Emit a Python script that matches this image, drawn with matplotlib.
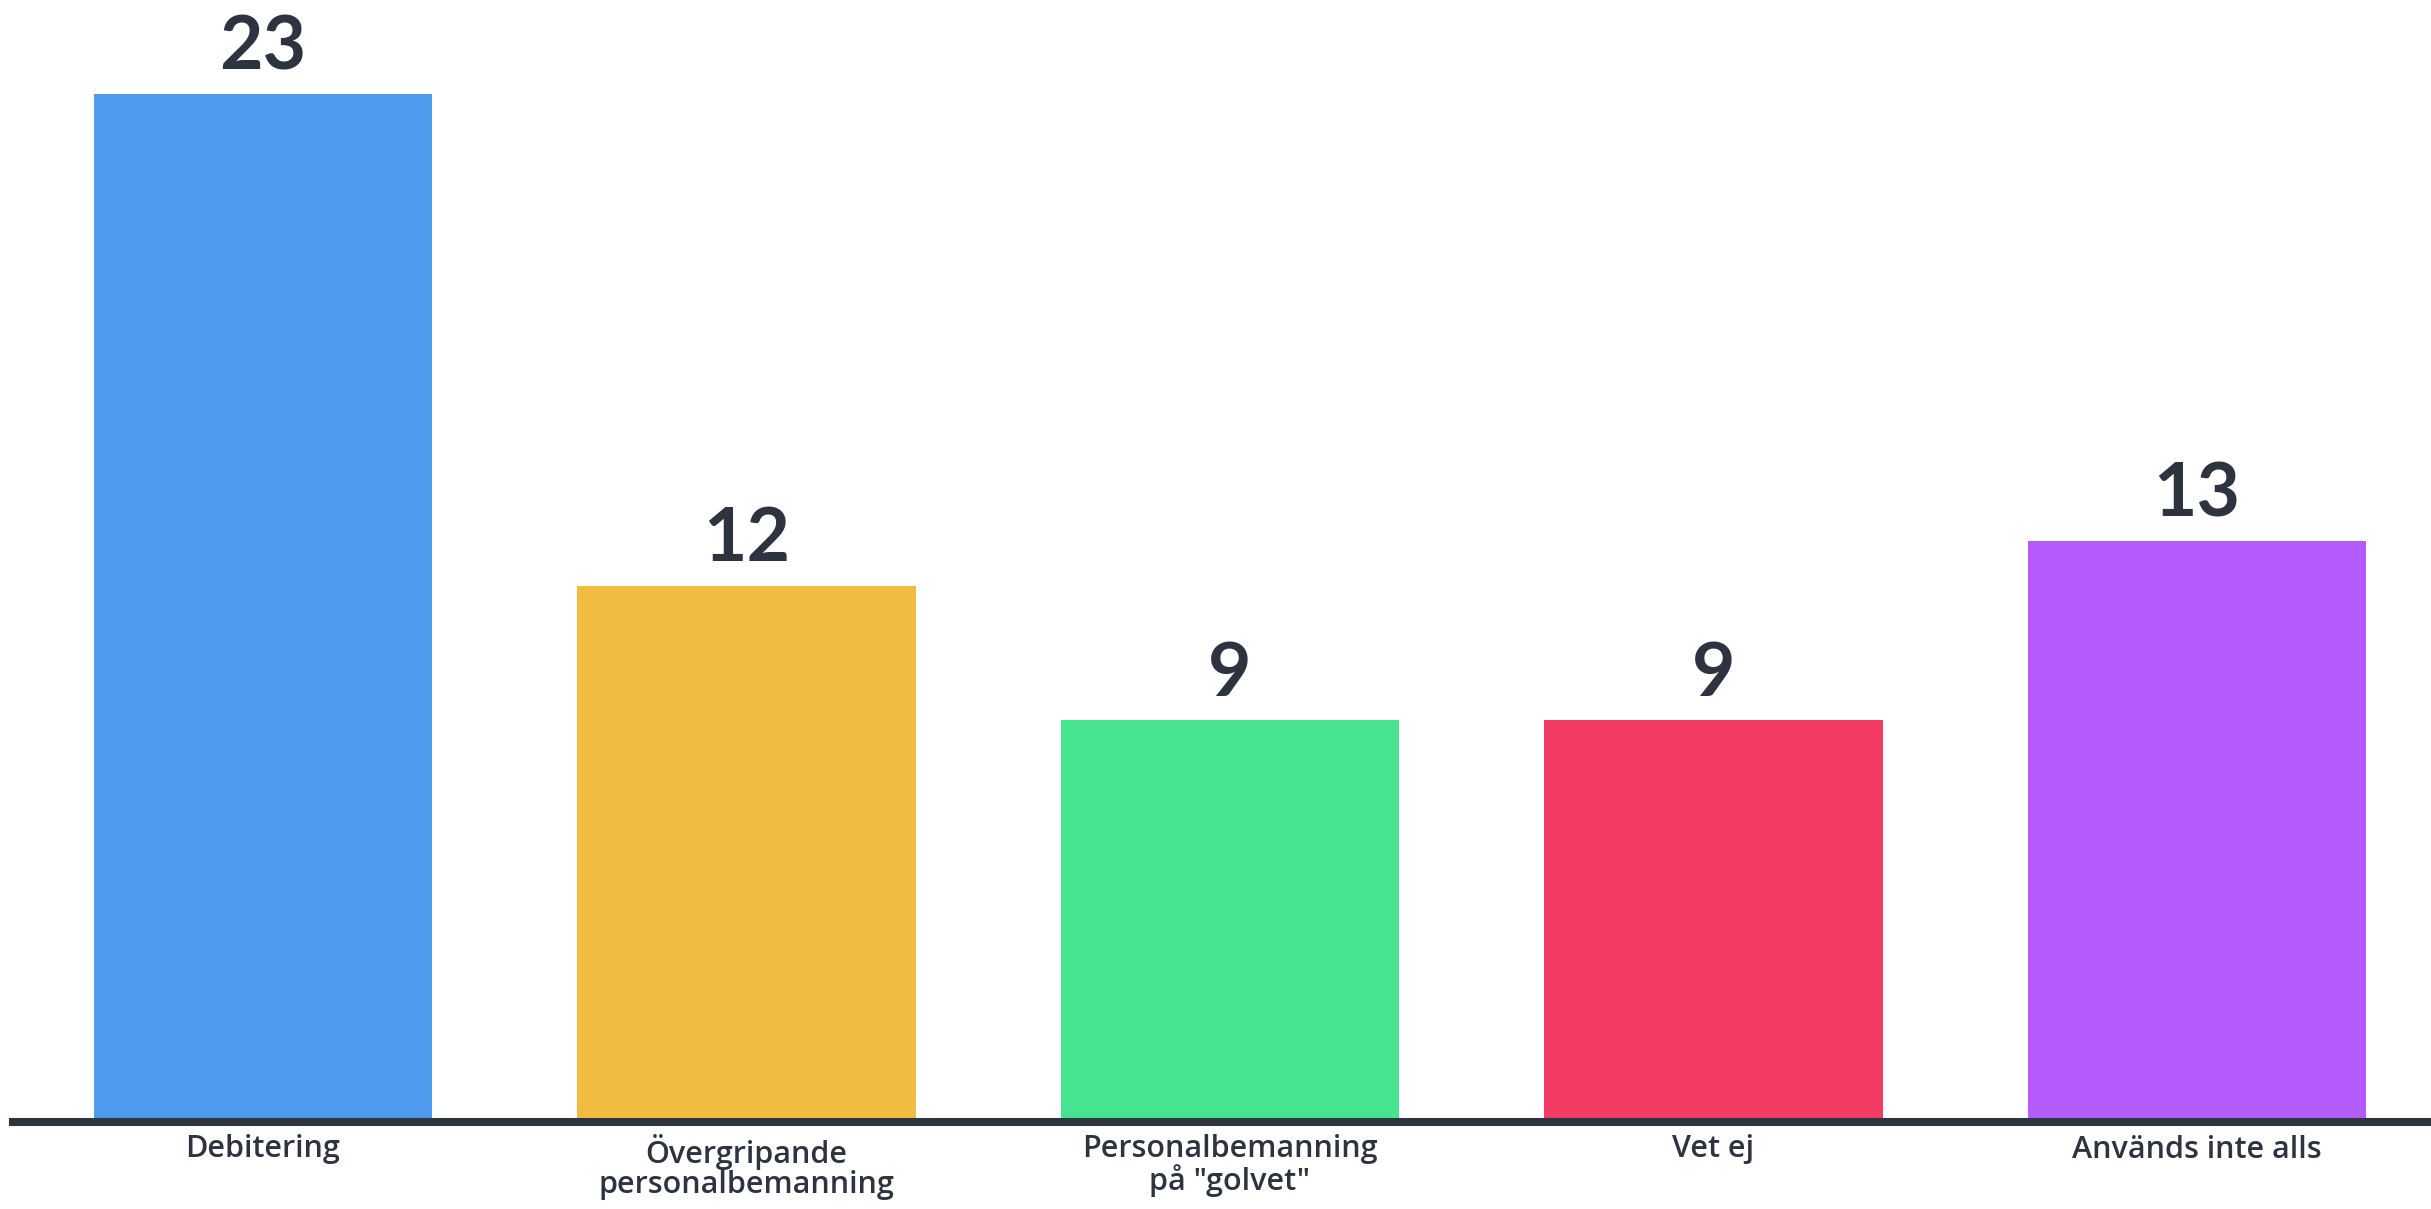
import matplotlib
matplotlib.use("Agg")
import matplotlib.pyplot as plt

categories = ["Debitering", "Övergripande\npersonalbemanning", "Personalbemanning\npå \"golvet\"", "Vet ej", "Används inte alls"]
values = [23, 12, 9, 9, 13]
colors = ["#4E9AEF", "#F0BC41", "#46E491", "#F43B63", "#B45CFB"]

text_color = "#2D3440"
plt.rcParams['font.family'] = ['Lato', 'DejaVu Sans']

W, H = 2431, 1209
fig = plt.figure(figsize=(W / 100, H / 100), dpi=100)
ax = fig.add_axes([13 / W, 87 / H, 1 - 13 / W, 1122 / H])

x = list(range(len(categories)))
bars = ax.bar(x, values, width=0.70, color=colors, zorder=1)

ax.set_xlim(-0.517, 4.484)
ax.set_ylim(0, 25.1)

for xi, v in zip(x, values):
    ax.annotate(str(v), (xi, v), xytext=(0, 8), textcoords="offset points",
                ha="center", va="bottom", fontsize=54, fontweight="bold",
                color=text_color)

ax.set_xticks(x)
ax.set_xticklabels(categories, fontsize=22, color=text_color, linespacing=1.0,
                   family=['Open Sans', 'DejaVu Sans'], fontweight="semibold")
ax.tick_params(axis="x", length=0, pad=9)
ax.tick_params(axis="y", left=False, labelleft=False)
for s in ["top", "right", "left"]:
    ax.spines[s].set_visible(False)
ax.spines["bottom"].set_linewidth(5.8)
ax.spines["bottom"].set_color("#2E3440")
ax.spines["bottom"].set_zorder(3)
ax.patch.set_alpha(0)

fig.savefig("out.png", dpi=100, facecolor="white")
